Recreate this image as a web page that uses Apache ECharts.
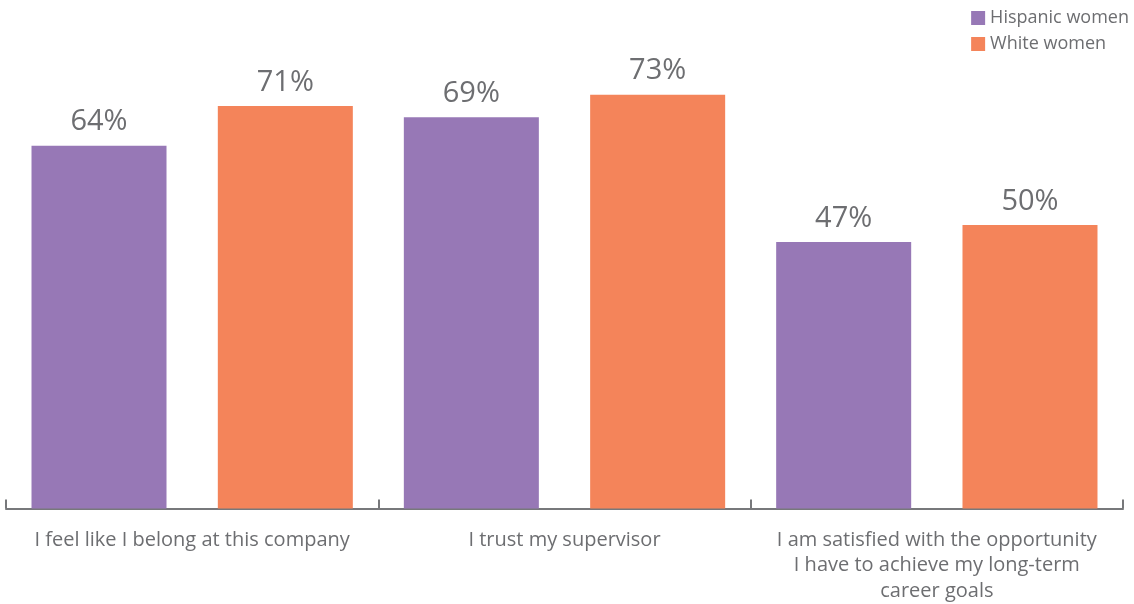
<!DOCTYPE html>
<html>
<head>
<meta charset="utf-8">
<script src="https://cdn.jsdelivr.net/npm/echarts@6/dist/echarts.min.js"></script>
<style>html,body{margin:0;padding:0;background:#fff;}#c{width:1134px;height:604px;}</style>
</head>
<body>
<div id="c"></div>
<script>
const categories = [
  "I feel like I belong at this company",
  "I trust my supervisor",
  "I am satisfied with the opportunity\nI have to achieve my long-term\ncareer goals"
];
const seriesNames = ["Hispanic women", "White women"];
const hispanicWomen = [64, 69, 47];
const whiteWomen = [71, 73, 50];

const FONT = "Open Sans";
const TEXT = "#6d6e71";
const chart = echarts.init(document.getElementById('c'));
chart.setOption({
  animation: false,
  textStyle: { fontFamily: FONT },
  legend: {
    orient: 'vertical', right: 0, top: 4,
    itemWidth: 14, itemHeight: 14, itemGap: 8, itemStyle: {borderWidth: 0},
    icon: 'rect',
    textStyle: { fontFamily: FONT, fontSize: 18, color: TEXT },
    data: seriesNames
  },
  grid: { left: 6, right: 11, top: 55, bottom: 87, containLabel: false },
  xAxis: {
    type: 'category', data: categories,
    axisLine: { lineStyle: { color: '#77787b', width: 2 } },
    axisTick: { show: true, inside: true, length: 9, lineStyle: { color: '#77787b', width: 2 } },
    axisLabel: { fontFamily: FONT, fontSize: 20, color: TEXT, lineHeight: 25.5, margin: 19, interval: 0 }
  },
  yAxis: { type: 'value', min: 0, max: 80, show: false, splitLine: { show: false } },
  series: [
    { name: seriesNames[0], type: 'bar', data: hispanicWomen, barGap: '38%', barCategoryGap: '13.7%',
      itemStyle: { color: '#9778b6' },
      label: { show: true, position: 'top', distance: 9, formatter: '{c}%', fontFamily: FONT, fontSize: 29, color: TEXT } },
    { name: seriesNames[1], type: 'bar', data: whiteWomen, barGap: '38%', barCategoryGap: '13.7%',
      itemStyle: { color: '#f4845a' },
      label: { show: true, position: 'top', distance: 9, formatter: '{c}%', fontFamily: FONT, fontSize: 29, color: TEXT } }
  ]
});
</script>
</body>
</html>
